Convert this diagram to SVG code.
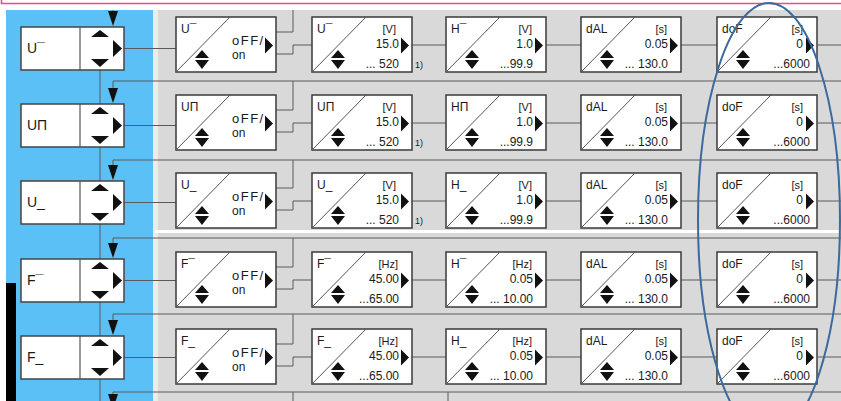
<svg xmlns="http://www.w3.org/2000/svg" xmlns:xlink="http://www.w3.org/1999/xlink" width="841" height="401" viewBox="0 0 841 401">
<style>
.t{font-family:"Liberation Sans","DejaVu Sans",sans-serif;fill:#1a1a1a}
.ll{font-size:14px}
.pl{font-size:12px}
.u{font-size:11px;text-anchor:end}
.v{font-size:12px;text-anchor:end}
.off{font-size:13px;letter-spacing:1.5px}
.fn{font-size:9px}
.pb{fill:#fff;stroke:#3a3a3a;stroke-width:1.5}
.lb{fill:#fff;stroke:#444;stroke-width:1.5}
.dg{stroke:#555;stroke-width:1}
.c{fill:none;stroke:#5a5a5a;stroke-width:1}
.ah{fill:#111}
</style>
<defs>
<g id="pframe">
<rect x="0" y="0" width="100" height="55" class="pb"/>
<line x1="0" y1="55" x2="54" y2="0" class="dg"/>
<path d="M19,41 H33 L26,33 Z M19,43 H33 L26,52 Z" class="ah"/>
<path d="M89,20.5 V36.5 L97,28.5 Z" class="ah"/>
</g>
<g id="lframe">
<rect x="0" y="0" width="103" height="43" class="lb"/>
<line x1="59" y1="0" x2="59" y2="43" stroke="#555" stroke-width="1.2"/>
<path d="M70,10 H88 L79,3 Z M70,32 H88 L79,40 Z" class="ah"/>
<path d="M92,13 V30 L101,21.5 Z" class="ah"/>
</g>
</defs>
<rect x="0" y="0" width="841" height="401" fill="#fff"/>
<path d="M1.5,0 V3.5 H841" fill="none" stroke="#ec4c8c" stroke-width="1.6"/>
<rect x="6" y="10" width="147" height="391" fill="#5ac0f6"/>
<rect x="6" y="283" width="10" height="118" fill="#000"/>
<rect x="153" y="10" width="688" height="391" fill="#d9d9d9"/>
<rect x="153" y="10" width="5" height="391" fill="#ececec"/>
<rect x="155" y="230" width="686" height="3" fill="#fff"/>

<g id="connectors">
<path class="c" d="M113,10 V12 M113,81 V88 M113,160 V165 M113,238 V243 M113,314 V320 M113,392 V394"/>
<path class="c" d="M113,81 H841 M113,160 H841 M113,238 H841 M113,314 H841 M113,392 H841"/>
<path class="c" d="M100,70 V104 M100,147 V181 M100,224 V259 M100,302 V336 M100,379 V401"/>
<path class="c" d="M124,48.5 H176 M124,125.5 H176 M124,202.5 H176 M124,280.5 H176 M124,357.5 H176"/>
<path class="ah" d="M108,11 H118 L113,26 Z M108,88 H118 L113,103 Z M108,165 H118 L113,180 Z M108,243 H118 L113,258 Z M108,320 H118 L113,335 Z M108,394 H118 L113,409 Z"/>
<path class="c" d="M276,32 H293 V10 M276,54 H293 V45 H312 M412,45 H446 M546,45 H581 M681,45 H717 M818,45 H841"/>
<path class="c" d="M276,110 H293 V81 M276,132 H293 V123 H312 M412,123 H446 M546,123 H581 M681,123 H717 M818,123 H841"/>
<path class="c" d="M276,188 H293 V160 M276,210 H293 V201 H312 M412,201 H446 M546,201 H581 M681,201 H717 M818,201 H841"/>
<path class="c" d="M276,267 H293 V238 M276,289 H293 V280 H312 M412,280 H446 M546,280 H581 M681,280 H717 M818,280 H841"/>
<path class="c" d="M276,344 H293 V314 M276,366 H293 V357 H312 M412,357 H446 M546,357 H581 M681,357 H717 M818,357 H841"/>
<path class="c" d="M293,392 V401 M448,392 V401"/>
</g>

<!-- Left column -->
<g id="L1"><use xlink:href="#lframe" x="21" y="27"/><text class="t ll" x="27" y="53">U¯</text></g>
<g id="L2"><use xlink:href="#lframe" x="21" y="104"/><text class="t ll" x="27" y="130">UΠ</text></g>
<g id="L3"><use xlink:href="#lframe" x="21" y="181"/><text class="t ll" x="27" y="207">U_</text></g>
<g id="L4"><use xlink:href="#lframe" x="21" y="259"/><text class="t ll" x="27" y="285">F¯</text></g>
<g id="L5"><use xlink:href="#lframe" x="21" y="336"/><text class="t ll" x="27" y="362">F_</text></g>

<!-- Row 1 -->
<g id="r1b1" transform="translate(176,17)"><use xlink:href="#pframe"/><text class="t pl" x="5" y="16">U¯</text><text class="t off" x="56" y="28">oFF/</text><text class="t pl" x="56" y="42">on</text></g>
<g id="r1b2" transform="translate(312,17)"><use xlink:href="#pframe"/><text class="t pl" x="5" y="16">U¯</text><text class="t u" x="84" y="16">[V]</text><text class="t v" x="87" y="31">15.0</text><text class="t v" x="87" y="51">... 520</text><text class="t fn" x="103" y="51">1)</text></g>
<g id="r1b3" transform="translate(446,17)"><use xlink:href="#pframe"/><text class="t pl" x="5" y="16">H¯</text><text class="t u" x="86" y="16">[V]</text><text class="t v" x="87" y="31">1.0</text><text class="t v" x="87" y="51">...99.9</text></g>
<g id="r1b4" transform="translate(581,17)"><use xlink:href="#pframe"/><text class="t pl" x="5" y="16">dAL</text><text class="t u" x="86" y="16">[s]</text><text class="t v" x="87" y="31">0.05</text><text class="t v" x="87" y="51">... 130.0</text></g>
<g id="r1b5" transform="translate(717,17)"><use xlink:href="#pframe"/><text class="t pl" x="5" y="16">doF</text><text class="t u" x="86" y="16">[s]</text><text class="t v" x="86" y="31">0</text><text class="t v" x="93" y="51">...6000</text></g>

<!-- Row 2 -->
<g id="r2b1" transform="translate(176,95)"><use xlink:href="#pframe"/><text class="t pl" x="5" y="16">UΠ</text><text class="t off" x="56" y="28">oFF/</text><text class="t pl" x="56" y="42">on</text></g>
<g id="r2b2" transform="translate(312,95)"><use xlink:href="#pframe"/><text class="t pl" x="5" y="16">UΠ</text><text class="t u" x="84" y="16">[V]</text><text class="t v" x="87" y="31">15.0</text><text class="t v" x="87" y="51">... 520</text><text class="t fn" x="103" y="51">1)</text></g>
<g id="r2b3" transform="translate(446,95)"><use xlink:href="#pframe"/><text class="t pl" x="5" y="16">HΠ</text><text class="t u" x="86" y="16">[V]</text><text class="t v" x="87" y="31">1.0</text><text class="t v" x="87" y="51">...99.9</text></g>
<g id="r2b4" transform="translate(581,95)"><use xlink:href="#pframe"/><text class="t pl" x="5" y="16">dAL</text><text class="t u" x="86" y="16">[s]</text><text class="t v" x="87" y="31">0.05</text><text class="t v" x="87" y="51">... 130.0</text></g>
<g id="r2b5" transform="translate(717,95)"><use xlink:href="#pframe"/><text class="t pl" x="5" y="16">doF</text><text class="t u" x="86" y="16">[s]</text><text class="t v" x="86" y="31">0</text><text class="t v" x="93" y="51">...6000</text></g>

<!-- Row 3 -->
<g id="r3b1" transform="translate(176,173)"><use xlink:href="#pframe"/><text class="t pl" x="5" y="16">U_</text><text class="t off" x="56" y="28">oFF/</text><text class="t pl" x="56" y="42">on</text></g>
<g id="r3b2" transform="translate(312,173)"><use xlink:href="#pframe"/><text class="t pl" x="5" y="16">U_</text><text class="t u" x="84" y="16">[V]</text><text class="t v" x="87" y="31">15.0</text><text class="t v" x="87" y="51">... 520</text><text class="t fn" x="103" y="51">1)</text></g>
<g id="r3b3" transform="translate(446,173)"><use xlink:href="#pframe"/><text class="t pl" x="5" y="16">H_</text><text class="t u" x="86" y="16">[V]</text><text class="t v" x="87" y="31">1.0</text><text class="t v" x="87" y="51">...99.9</text></g>
<g id="r3b4" transform="translate(581,173)"><use xlink:href="#pframe"/><text class="t pl" x="5" y="16">dAL</text><text class="t u" x="86" y="16">[s]</text><text class="t v" x="87" y="31">0.05</text><text class="t v" x="87" y="51">... 130.0</text></g>
<g id="r3b5" transform="translate(717,173)"><use xlink:href="#pframe"/><text class="t pl" x="5" y="16">doF</text><text class="t u" x="86" y="16">[s]</text><text class="t v" x="86" y="31">0</text><text class="t v" x="93" y="51">...6000</text></g>

<!-- Row 4 -->
<g id="r4b1" transform="translate(176,252)"><use xlink:href="#pframe"/><text class="t pl" x="5" y="16">F¯</text><text class="t off" x="56" y="28">oFF/</text><text class="t pl" x="56" y="42">on</text></g>
<g id="r4b2" transform="translate(312,252)"><use xlink:href="#pframe"/><text class="t pl" x="5" y="16">F¯</text><text class="t u" x="86" y="16">[Hz]</text><text class="t v" x="87" y="31">45.00</text><text class="t v" x="87" y="51">...65.00</text></g>
<g id="r4b3" transform="translate(446,252)"><use xlink:href="#pframe"/><text class="t pl" x="5" y="16">H¯</text><text class="t u" x="86" y="16">[Hz]</text><text class="t v" x="87" y="31">0.05</text><text class="t v" x="87" y="51">... 10.00</text></g>
<g id="r4b4" transform="translate(581,252)"><use xlink:href="#pframe"/><text class="t pl" x="5" y="16">dAL</text><text class="t u" x="86" y="16">[s]</text><text class="t v" x="87" y="31">0.05</text><text class="t v" x="87" y="51">... 130.0</text></g>
<g id="r4b5" transform="translate(717,252)"><use xlink:href="#pframe"/><text class="t pl" x="5" y="16">doF</text><text class="t u" x="86" y="16">[s]</text><text class="t v" x="86" y="31">0</text><text class="t v" x="93" y="51">...6000</text></g>

<!-- Row 5 -->
<g id="r5b1" transform="translate(176,329)"><use xlink:href="#pframe"/><text class="t pl" x="5" y="16">F_</text><text class="t off" x="56" y="28">oFF/</text><text class="t pl" x="56" y="42">on</text></g>
<g id="r5b2" transform="translate(312,329)"><use xlink:href="#pframe"/><text class="t pl" x="5" y="16">F_</text><text class="t u" x="86" y="16">[Hz]</text><text class="t v" x="87" y="31">45.00</text><text class="t v" x="87" y="51">...65.00</text></g>
<g id="r5b3" transform="translate(446,329)"><use xlink:href="#pframe"/><text class="t pl" x="5" y="16">H_</text><text class="t u" x="86" y="16">[Hz]</text><text class="t v" x="87" y="31">0.05</text><text class="t v" x="87" y="51">... 10.00</text></g>
<g id="r5b4" transform="translate(581,329)"><use xlink:href="#pframe"/><text class="t pl" x="5" y="16">dAL</text><text class="t u" x="86" y="16">[s]</text><text class="t v" x="87" y="31">0.05</text><text class="t v" x="87" y="51">... 130.0</text></g>
<g id="r5b5" transform="translate(717,329)"><use xlink:href="#pframe"/><text class="t pl" x="5" y="16">doF</text><text class="t u" x="86" y="16">[s]</text><text class="t v" x="86" y="31">0</text><text class="t v" x="93" y="51">...6000</text></g>

<ellipse id="highlight" cx="769" cy="220" rx="71" ry="217" fill="none" stroke="#3b6a9c" stroke-width="2"/>
</svg>
